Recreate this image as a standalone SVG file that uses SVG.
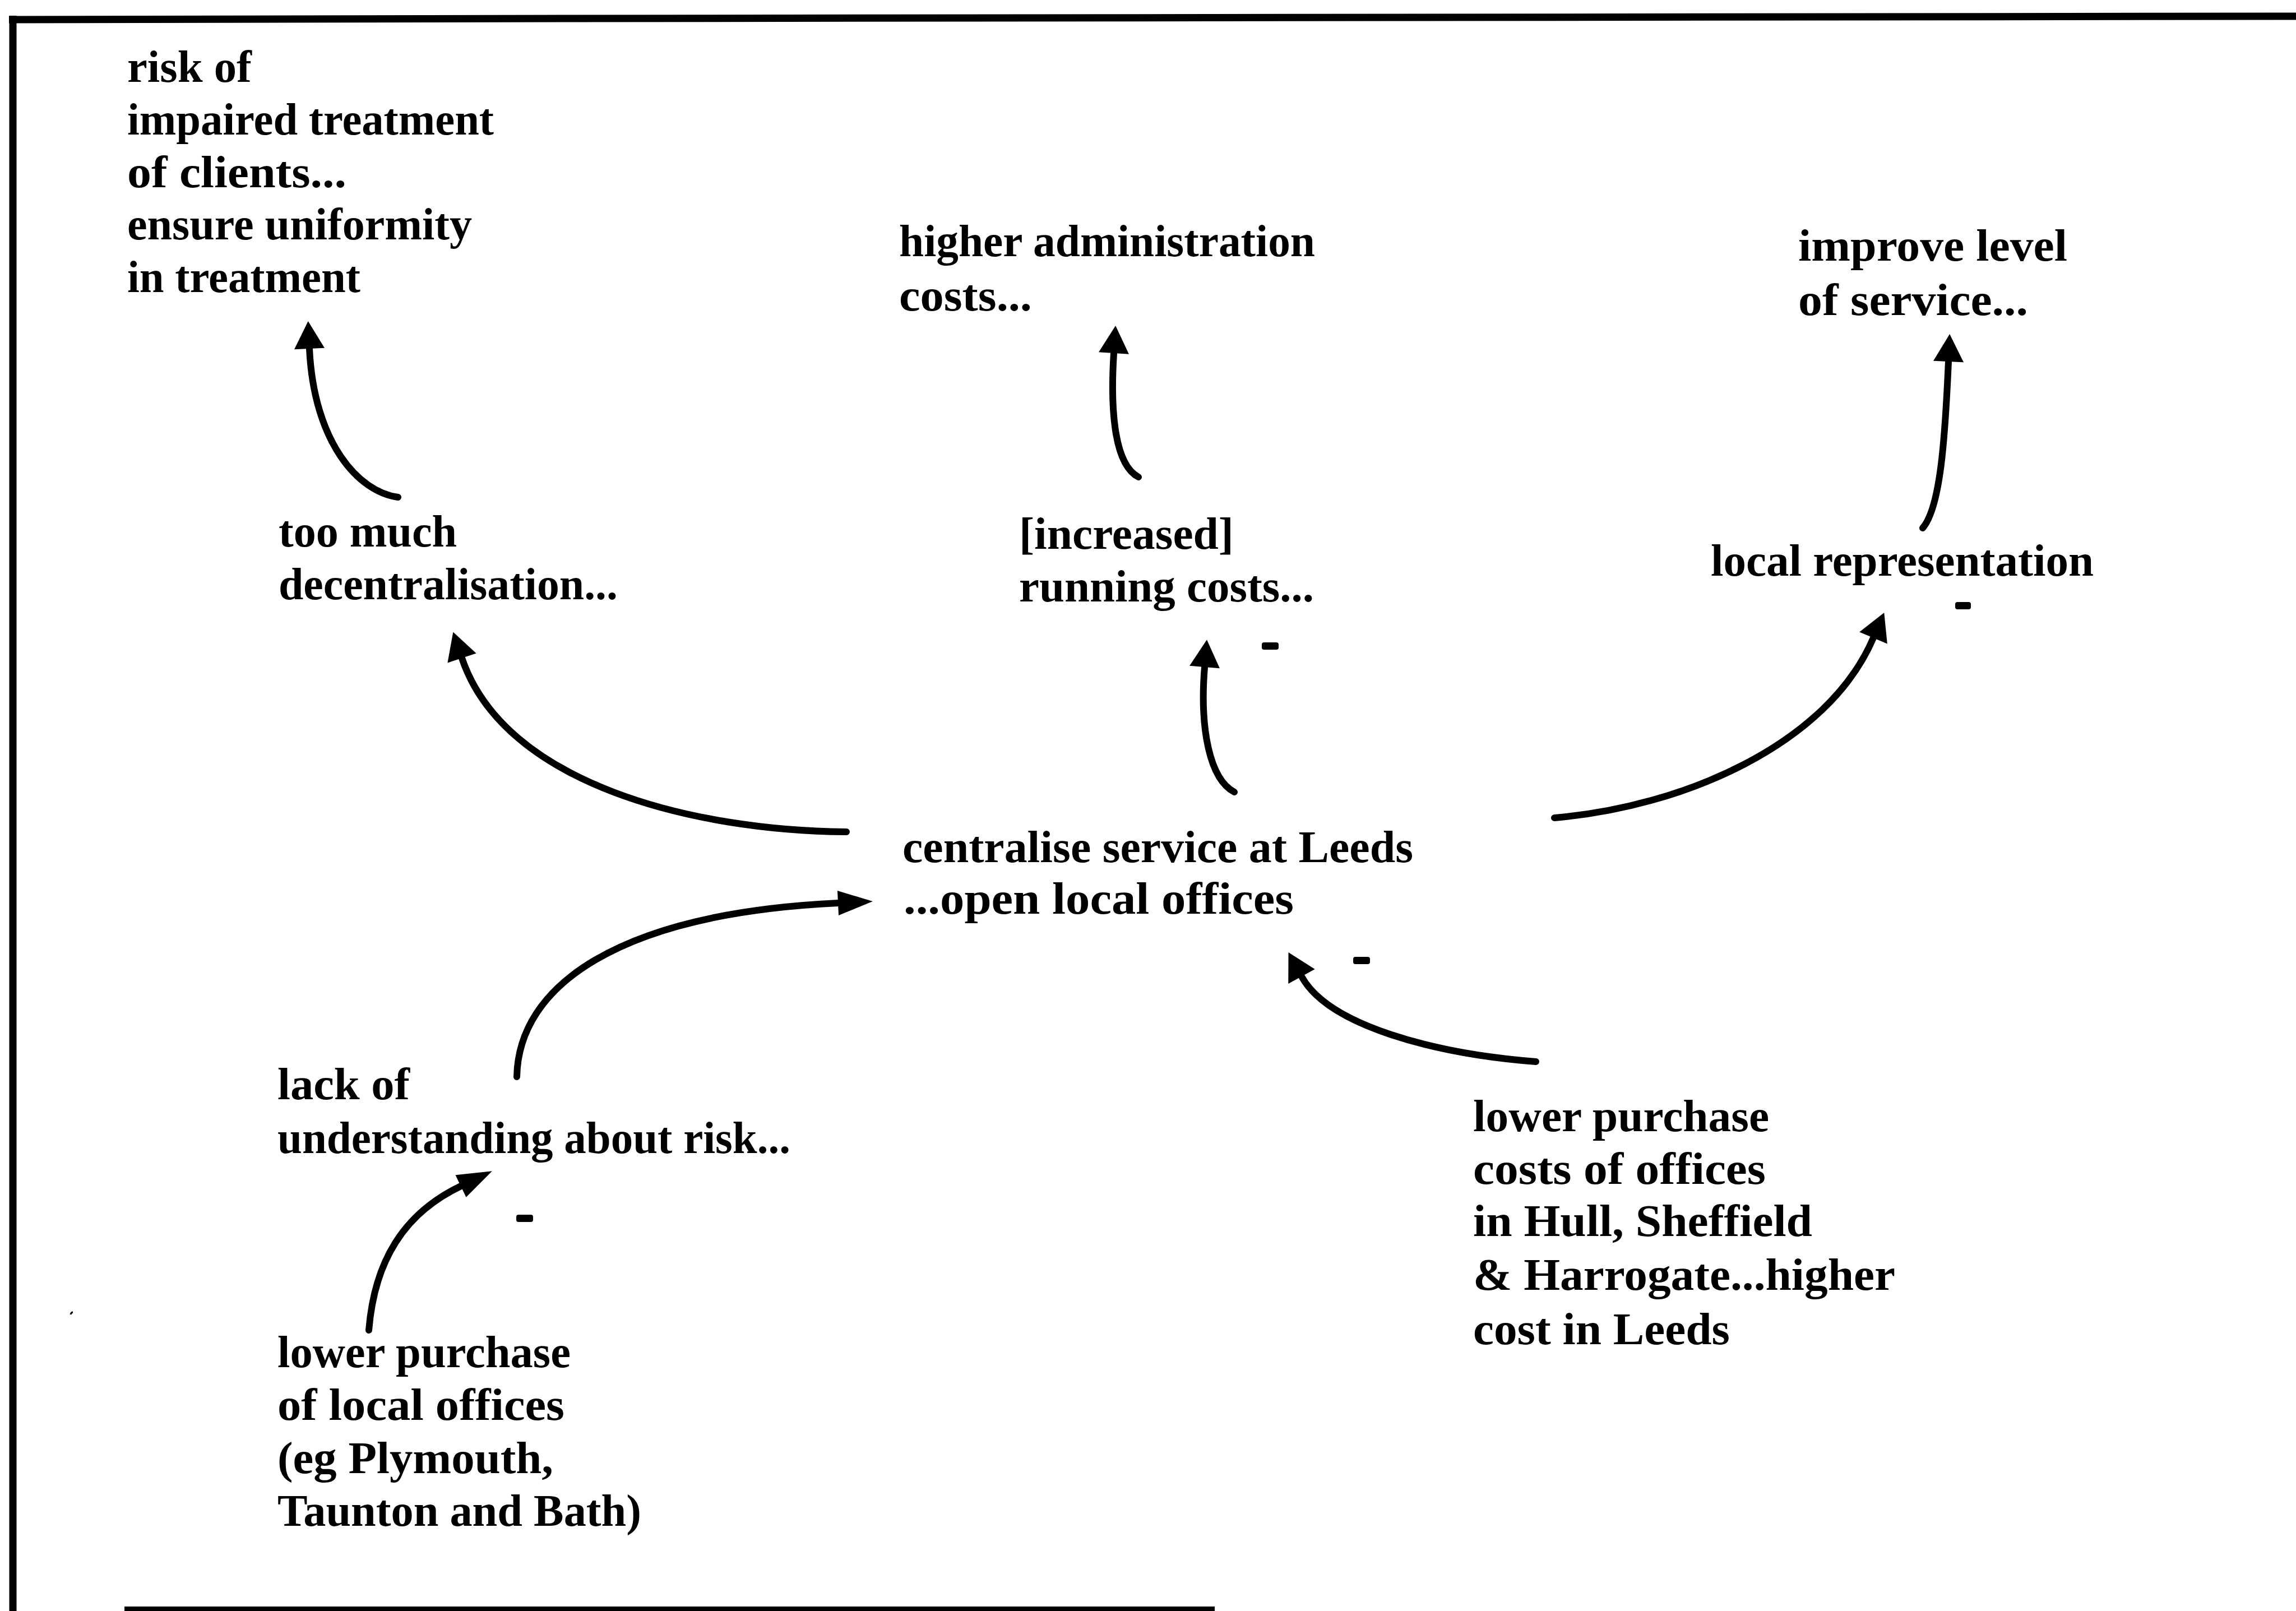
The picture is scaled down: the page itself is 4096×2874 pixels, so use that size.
<svg xmlns="http://www.w3.org/2000/svg" width="4096" height="2874" viewBox="0 0 4096 2874">
  <style>
    .t { font-family: "Liberation Serif", "Times New Roman", serif; font-weight: bold; font-size: 80px; fill: #000; }
    .link { fill: none; stroke: #000; stroke-width: 12; stroke-linecap: round; stroke-linejoin: round; }
    .edge { fill: none; stroke: #000; stroke-linecap: butt; }
    .sign { fill: #000; }
  </style>
  <defs>
    <marker id="head" markerUnits="userSpaceOnUse" orient="auto" overflow="visible" markerWidth="64" markerHeight="64" refX="0" refY="0">
      <path d="M0,-27 L49,0 L0,27 Z" fill="#000"/>
    </marker>
    <marker id="headLong" markerUnits="userSpaceOnUse" orient="auto" overflow="visible" markerWidth="70" markerHeight="50" refX="0" refY="0">
      <path d="M0,-22 L62,0 L0,22 Z" fill="#000"/>
    </marker>
  </defs>

  <rect x="0" y="0" width="4096" height="2874" fill="#fff"/>

  <!-- page frame: heavy top rule, left rule, short bottom rule -->
  <g id="frame">
    <path class="edge" d="M16,35 L1000,33 L4096,29" stroke-width="13"/>
    <path class="edge" d="M23,28 L23,2874" stroke-width="13"/>
    <path class="edge" d="M222,2870 L2167,2870" stroke-width="8"/>
    <path d="M126,2345 q1,-4 4,-4" fill="none" stroke="#000" stroke-width="3"/>
  </g>

  <g id="connectors">
    <!-- too much decentralisation -> risk of impaired treatment -->
    <path class="link" marker-end="url(#head)" d="M710,887 C640,878 560,790 552,622"/>
    <!-- running costs -> higher administration costs -->
    <path class="link" marker-end="url(#head)" d="M2031,851 C1990,830 1980,740 1987,630"/>
    <!-- local representation -> improve level of service -->
    <path class="link" marker-end="url(#head)" d="M3430,942 C3462,905 3470,780 3476,645"/>
    <!-- centralise -> too much decentralisation -->
    <path class="link" marker-end="url(#head)" d="M1510,1484 C1240,1482 900,1400 824,1174"/>
    <!-- centralise -> running costs -->
    <path class="link" marker-end="url(#head)" d="M2202,1413 C2158,1390 2140,1300 2149,1190"/>
    <!-- centralise -> local representation -->
    <path class="link" marker-end="url(#head)" d="M2773,1459 C3000,1440 3260,1330 3342,1138"/>
    <!-- lack of understanding -> centralise -->
    <path class="link" marker-end="url(#headLong)" d="M922,1921 C925,1760 1100,1630 1495,1611"/>
    <!-- lower purchase costs (Hull...) -> centralise -->
    <path class="link" marker-end="url(#head)" d="M2740,1894 C2560,1880 2370,1830 2322,1742"/>
    <!-- lower purchase of local offices -> lack of understanding -->
    <path class="link" marker-end="url(#headLong)" d="M658,2373 C668,2250 720,2165 822,2116"/>

    <!-- negative polarity marks -->
    <rect class="sign" x="2251" y="1146" width="30" height="13" rx="4"/>
    <rect class="sign" x="3488" y="1074" width="28" height="13" rx="4"/>
    <rect class="sign" x="2414" y="1707" width="30" height="13" rx="4"/>
    <rect class="sign" x="921" y="2167" width="30" height="13" rx="4"/>
  </g>

  <g id="risk-impaired-treatment">
    <text class="t" x="227" y="146" textLength="222" lengthAdjust="spacingAndGlyphs">risk of</text>
    <text class="t" x="227" y="240" textLength="654" lengthAdjust="spacingAndGlyphs">impaired treatment</text>
    <text class="t" x="227" y="334" textLength="391" lengthAdjust="spacingAndGlyphs">of clients...</text>
    <text class="t" x="227" y="427" textLength="615" lengthAdjust="spacingAndGlyphs">ensure uniformity</text>
    <text class="t" x="227" y="521" textLength="416" lengthAdjust="spacingAndGlyphs">in treatment</text>
  </g>

  <g id="higher-admin-costs">
    <text class="t" x="1604" y="457" textLength="742" lengthAdjust="spacingAndGlyphs">higher administration</text>
    <text class="t" x="1604" y="554" textLength="237" lengthAdjust="spacingAndGlyphs">costs...</text>
  </g>

  <g id="improve-service">
    <text class="t" x="3208" y="465" textLength="480" lengthAdjust="spacingAndGlyphs">improve level</text>
    <text class="t" x="3208" y="562" textLength="410" lengthAdjust="spacingAndGlyphs">of service...</text>
  </g>

  <g id="too-much-decentralisation">
    <text class="t" x="497" y="975" textLength="318" lengthAdjust="spacingAndGlyphs">too much</text>
    <text class="t" x="497" y="1069" textLength="605" lengthAdjust="spacingAndGlyphs">decentralisation...</text>
  </g>

  <g id="running-costs">
    <text class="t" x="1818" y="979" textLength="383" lengthAdjust="spacingAndGlyphs">[increased]</text>
    <text class="t" x="1818" y="1073" textLength="526" lengthAdjust="spacingAndGlyphs">running costs...</text>
  </g>

  <g id="local-representation">
    <text class="t" x="3052" y="1027" textLength="683" lengthAdjust="spacingAndGlyphs">local representation</text>
  </g>

  <g id="centralise-leeds">
    <text class="t" x="1610" y="1538" textLength="911" lengthAdjust="spacingAndGlyphs">centralise service at Leeds</text>
    <text class="t" x="1612" y="1630" textLength="696" lengthAdjust="spacingAndGlyphs">...open local offices</text>
  </g>

  <g id="lack-of-understanding">
    <text class="t" x="495" y="1961" textLength="236" lengthAdjust="spacingAndGlyphs">lack of</text>
    <text class="t" x="495" y="2057" textLength="915" lengthAdjust="spacingAndGlyphs">understanding about risk...</text>
  </g>

  <g id="lower-purchase-costs-north">
    <text class="t" x="2628" y="2018" textLength="528" lengthAdjust="spacingAndGlyphs">lower purchase</text>
    <text class="t" x="2628" y="2112" textLength="522" lengthAdjust="spacingAndGlyphs">costs of offices</text>
    <text class="t" x="2628" y="2205" textLength="605" lengthAdjust="spacingAndGlyphs">in Hull, Sheffield</text>
    <text class="t" x="2628" y="2301" textLength="753" lengthAdjust="spacingAndGlyphs">&amp; Harrogate...higher</text>
    <text class="t" x="2628" y="2398" textLength="458" lengthAdjust="spacingAndGlyphs">cost in Leeds</text>
  </g>

  <g id="lower-purchase-local-offices">
    <text class="t" x="495" y="2439" textLength="523" lengthAdjust="spacingAndGlyphs">lower purchase</text>
    <text class="t" x="495" y="2533" textLength="512" lengthAdjust="spacingAndGlyphs">of local offices</text>
    <text class="t" x="495" y="2628" textLength="492" lengthAdjust="spacingAndGlyphs">(eg Plymouth,</text>
    <text class="t" x="495" y="2722" textLength="649" lengthAdjust="spacingAndGlyphs">Taunton and Bath)</text>
  </g>
</svg>
